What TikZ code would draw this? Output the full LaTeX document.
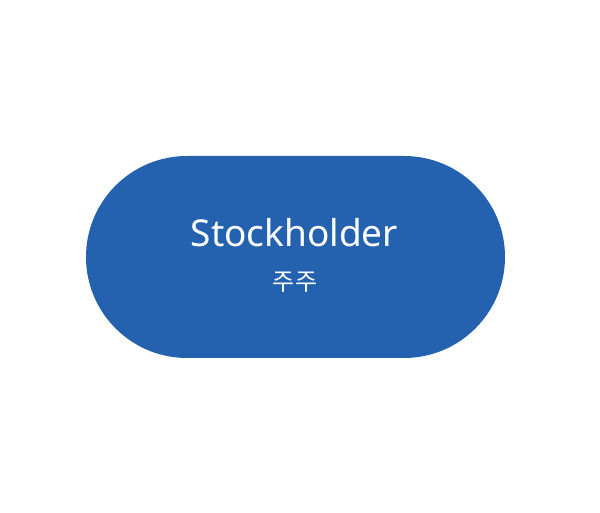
\documentclass[tikz,border=0pt]{standalone}
\usepackage{fontspec}
\setmainfont{Noto Sans}
\newfontfamily\kofont{Noto Sans CJK KR}
\definecolor{pillblue}{HTML}{2462B0}
\begin{document}
\begin{tikzpicture}[x=1pt,y=1pt,
  pill/.style={fill=pillblue, draw=none, rounded corners=101pt, minimum width=419pt, minimum height=202pt, inner sep=0pt},
  title/.style={text=white, font=\fontsize{37}{40}\selectfont, inner sep=0pt, anchor=base},
  sub/.style={text=white, font=\kofont\fontsize{24}{26}\selectfont, inner sep=0pt, anchor=base}]
\useasboundingbox (0,0) rectangle (600,513);
\node[pill] (box) at (295.5,256) {};
\node[title] (t) at (294.5,266) {Stockholder};
\node[sub] (s) at (295,222) {주주};
\end{tikzpicture}
\end{document}
